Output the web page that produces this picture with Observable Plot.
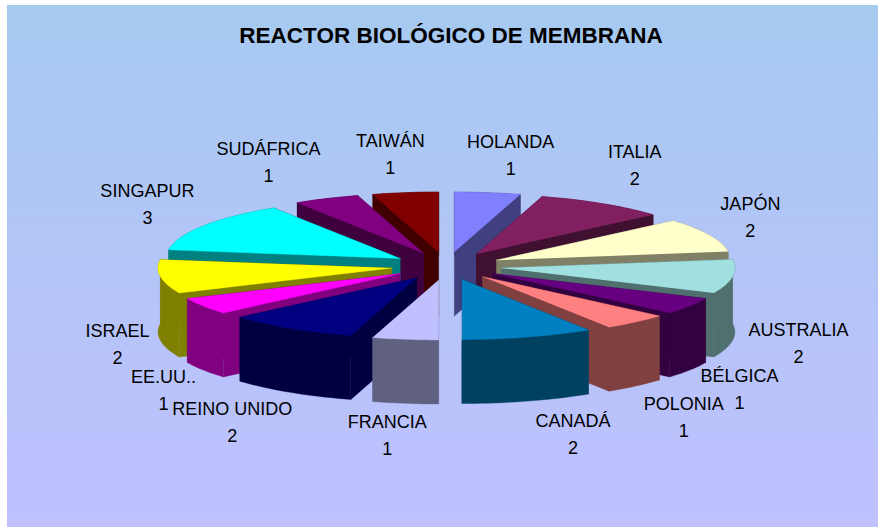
<!DOCTYPE html>
<html><head><meta charset="utf-8">
<script src="https://cdn.jsdelivr.net/npm/d3@7"></script>
<script src="https://cdn.jsdelivr.net/npm/@observablehq/plot@0.6"></script>
<style>
html,body{margin:0;padding:0;background:#fff}
svg{display:block}
</style></head><body>
<script>
const categories = ["HOLANDA","ITALIA","JAPÓN","AUSTRALIA","BÉLGICA","POLONIA","CANADÁ","FRANCIA","REINO UNIDO","EE.UU..","ISRAEL","SINGAPUR","SUDÁFRICA","TAIWÁN"];
const values = [1,2,2,2,1,1,2,1,2,1,2,3,1,1];
const topColors = ["#8080FF","#802060","#FFFFCC","#A0E0E0","#660080","#FF8080","#0080C0","#C0C0FF","#000080","#FF00FF","#FFFF00","#00FFFF","#800080","#800000"];
const wallColors = ["#404080","#401030","#808066","#507070","#330040","#804040","#004060","#606080","#000040","#800080","#808000","#008080","#400040","#400000"];
// pixel nudges of each label from its slice's outer anchor
const labelDx = [23,32,41,66,50,48,45,-18,-58,-40,-43,-56,-58,-15];
const labelDy = [-40,-41,-20,64,81,93,95,94,92,82,65,-24,-39,-41];

const EXPLODE = 0.235, THICK = 1.067;
const total = d3.sum(values);
let cum = 0;
const slices = categories.map((name,i)=>{
  const a0 = cum/total*2*Math.PI; cum += values[i];
  const a1 = cum/total*2*Math.PI; const mid=(a0+a1)/2;
  return {name,value:values[i],a0,a1,mid,i,ax:EXPLODE*Math.sin(mid),ay:EXPLODE*Math.cos(mid)};
});
const arc = s => { const n=Math.max(2,Math.ceil((s.a1-s.a0)/0.03)); return d3.range(n+1).map(k=>{const a=s.a0+(s.a1-s.a0)*k/n; return [s.ax+Math.sin(a),s.ay+Math.cos(a)];}); };
const poly = (pts,fill)=>Plot.line(pts,{x:d=>d[0],y:d=>d[1],fill,stroke:fill,strokeWidth:0.4,curve:"linear"});
const faceMarks = [];
[...slices].sort((a,b)=>b.ay-a.ay).forEach(s=>{
  const wall = wallColors[s.i], arcPts = arc(s), apex=[s.ax,s.ay];
  const down = p=>[p[0],p[1]-THICK];
  const first=arcPts[0], last=arcPts[arcPts.length-1];
  faceMarks.push(poly([apex,first,down(first),down(apex)],wall));
  faceMarks.push(poly([apex,last,down(last),down(apex)],wall));
  faceMarks.push(poly([...arcPts,...arcPts.map(down).reverse()],wall));
  faceMarks.push(poly([apex,...arcPts],topColors[s.i]));
});
const labelMarks = slices.map(s=>Plot.text([s],{
  x:d=>d.ax+Math.sin(d.mid), y:d=>d.ay+Math.cos(d.mid),
  text:d=>d.name+"\n"+d.value, dx:labelDx[s.i], dy:labelDy[s.i],
  lineHeight:1.5, fill:"#000", textAnchor:"middle"
}));
const chart = Plot.plot({
  width:878,height:527,margin:0,
  style:{background:"linear-gradient(#A6CAF0,#C0C0FF) 7px 5px / 871px 522px no-repeat",fontFamily:"'Liberation Sans',Arial,sans-serif",fontSize:"18px",overflow:"visible"},
  x:{domain:[-1,1],range:[212,680],axis:null},
  y:{domain:[-1,1],range:[325.5,205.5],axis:null},
  marks:[
    ...faceMarks,
    ...labelMarks,
    Plot.text(["REACTOR BIOLÓGICO DE MEMBRANA"],{frameAnchor:"top",text:d=>d,dx:11.5,dy:27,fontWeight:"bold",fontSize:22.5,fill:"#000",lineAnchor:"top"})
  ]
});
document.body.appendChild(chart);
</script>
</body></html>
